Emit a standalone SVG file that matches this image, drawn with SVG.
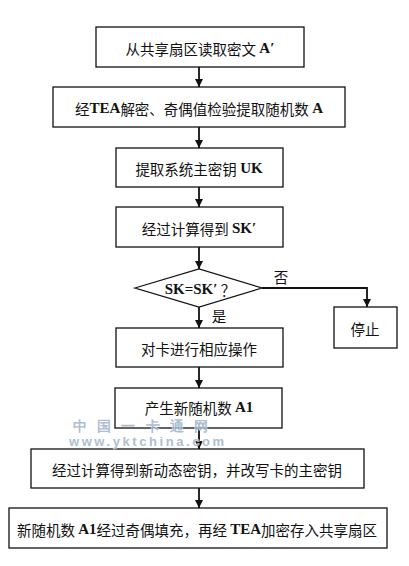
<svg xmlns="http://www.w3.org/2000/svg" width="409" height="566" viewBox="0 0 409 566">
<style>
.box{fill:#fff;stroke:#111;stroke-width:1.3}
.t{font-family:"Noto Sans CJK SC","Liberation Serif",serif;font-size:14.5px;fill:#111;text-anchor:middle;dominant-baseline:central}
.b{font-family:"Liberation Serif",serif;font-weight:bold;font-size:15px}
.c{fill:none;stroke:#111;stroke-width:1.8}
.wm{font-family:"Liberation Sans",sans-serif;font-weight:bold;fill:#9fb4c9;stroke:#fff;stroke-width:0.8;paint-order:stroke;opacity:0.85}
</style>
<defs>
<marker id="ah" viewBox="0 0 10 10" refX="10" refY="5" markerWidth="8" markerHeight="9" markerUnits="userSpaceOnUse" orient="auto">
<path d="M0,0 L10,5 L0,10 z" fill="#111"/>
</marker>
</defs>
<rect width="409" height="566" fill="#fff"/>
<g id="connectors">
<line class="c" x1="199" y1="67" x2="199" y2="87" marker-end="url(#ah)"/>
<line class="c" x1="199" y1="127" x2="199" y2="148" marker-end="url(#ah)"/>
<line class="c" x1="199" y1="187" x2="199" y2="207" marker-end="url(#ah)"/>
<line class="c" x1="199" y1="247" x2="199" y2="269" marker-end="url(#ah)"/>
<line class="c" x1="199" y1="307" x2="199" y2="328" marker-end="url(#ah)"/>
<polyline class="c" points="262,288 367,288 367,307" marker-end="url(#ah)"/>
<line class="c" x1="199" y1="367" x2="199" y2="388" marker-end="url(#ah)"/>
<line class="c" x1="199" y1="428" x2="199" y2="449" marker-end="url(#ah)"/>
<line class="c" x1="199" y1="488" x2="199" y2="508" marker-end="url(#ah)"/>
<text class="t" x="281" y="276">否</text>
<text class="t" x="219" y="315">是</text>
</g>
<g id="n1"><rect class="box" x="96" y="27" width="208" height="40"/><text class="t" x="200" y="48">从共享扇区读取密文 <tspan class="b">A′</tspan></text></g>
<g id="n2"><rect class="box" x="53" y="87" width="292" height="40"/><text class="t" x="199" y="108">经<tspan class="b">TEA</tspan>解密、奇偶值检验提取随机数 <tspan class="b">A</tspan></text></g>
<g id="n3"><rect class="box" x="116" y="148" width="167" height="39"/><text class="t" x="199" y="168">提取系统主密钥 <tspan class="b">UK</tspan></text></g>
<g id="n4"><rect class="box" x="116" y="207" width="167" height="40"/><text class="t" x="199" y="228">经过计算得到 <tspan class="b">SK′</tspan></text></g>
<g id="n5"><polygon class="box" points="135,288 199,269 262,288 199,307"/><text class="t" x="200" y="289"><tspan class="b">SK=SK′</tspan> ？</text></g>
<g id="n6"><rect class="box" x="334" y="307" width="63" height="41"/><text class="t" x="365" y="328">停止</text></g>
<g id="n7"><rect class="box" x="116" y="328" width="167" height="39"/><text class="t" x="199" y="348">对卡进行相应操作</text></g>
<g id="n8"><rect class="box" x="115" y="388" width="167" height="40"/><text class="t" x="199" y="407">产生新随机数 <tspan class="b">A1</tspan></text></g>
<g id="n9"><rect class="box" x="31" y="449" width="333" height="39"/><text class="t" x="197" y="469">经过计算得到新动态密钥，并改写卡的主密钥</text></g>
<g id="n10"><rect class="box" x="9" y="508" width="378" height="40"/><text class="t" x="197" y="529">新随机数 <tspan class="b">A1</tspan>经过奇偶填充，再经 <tspan class="b">TEA</tspan>加密存入共享扇区</text></g>
<g id="watermark">
<text class="wm" x="73" y="431" font-size="14" font-family="Noto Sans CJK SC" textLength="135">中 国 一 卡 通 网</text>
<text class="wm" x="69" y="446" font-size="13" textLength="155">www.yktchina.com</text>
</g>
</svg>
